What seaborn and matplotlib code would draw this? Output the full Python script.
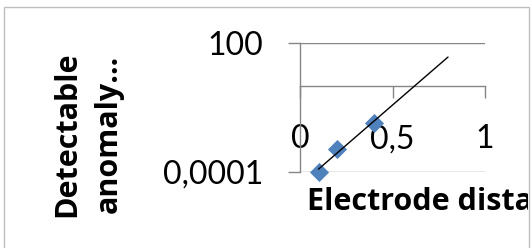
import numpy as np
import pandas as pd
import matplotlib
matplotlib.use("Agg")
import matplotlib.pyplot as plt
from matplotlib.patches import Rectangle
from matplotlib.transforms import Bbox
import seaborn as sns

# ---- data ----
electrode_distance = [0.1, 0.2, 0.4]
detectable_anomaly = [0.0001, 0.0012, 0.02]
forecast_forward = 0.4
x_ticks = [0, 0.5, 1]
x_tick_labels = ["0", "0,5", "1"]
y_ticks = [0.0001, 100]
y_tick_labels = ["0,0001", "100"]
x_title = "Electrode distance (m)"
y_title = "Detectable\nanomaly\u2026"

sns.set_theme(style="white")
plt.rcParams["font.family"] = ["Lato", "DejaVu Sans"]

W, H = 531, 248
fig = plt.figure(figsize=(W / 100, H / 100), dpi=100)
fig.patch.set_facecolor("white")

# chart area border
fig.patches.append(Rectangle((4 / W, -0.1), (529 - 4) / W, 1 - 7 / H + 0.1,
                             transform=fig.transFigure, fill=False,
                             edgecolor="#bfbfbf", linewidth=1.0))

ax = fig.add_axes([300 / W, (H - 172) / H, 185 / W, 129 / H])
ax.set_facecolor("none")

df = pd.DataFrame({"x": electrode_distance, "y": detectable_anomaly})
sns.scatterplot(data=df, x="x", y="y", ax=ax, marker="D", s=95,
                color="#4F81BD", edgecolor="#4F81BD", linewidth=0,
                clip_on=False, zorder=3)

# exponential trendline (fit in log space), forecast forward
b, a = np.polyfit(df["x"], np.log10(df["y"]), 1)
tx = np.array([df["x"].min(), df["x"].max() + forecast_forward])
trend = pd.DataFrame({"x": tx, "y": 10 ** (a + b * tx)})
sns.lineplot(data=trend, x="x", y="y", ax=ax, color="black",
             linewidth=1.0, zorder=4)

ax.set_yscale("log")
ax.set_xlim(0, 1)
ax.set_ylim(0.0001, 100)
ax.yaxis.set_minor_locator(matplotlib.ticker.NullLocator())
ax.set_yticks(y_ticks)
ax.set_yticklabels(y_tick_labels)
ax.set_xticks(x_ticks)
ax.set_xticklabels(x_tick_labels)
ax.set_xlabel("")
ax.set_ylabel("")

grid_c = "#868686"
ax.grid(axis="y", color=grid_c, linewidth=1.0)
ax.grid(axis="x", visible=False)
for s in ["top", "right"]:
    ax.spines[s].set_visible(False)
ax.spines["left"].set_color(grid_c)
ax.spines["left"].set_linewidth(1.0)
ax.spines["bottom"].set_color(grid_c)
ax.spines["bottom"].set_linewidth(1.0)
ax.spines["bottom"].set_position(("data", 1))

ax.tick_params(axis="y", direction="out", length=8.6, width=1.0,
               color=grid_c, pad=18, labelsize=23, left=True)
ax.tick_params(axis="x", direction="out", length=8.6, width=1.0,
               color=grid_c, pad=19, labelsize=23, bottom=True)
for lab in ax.get_xticklabels() + ax.get_yticklabels():
    lab.set_color("black")

title_font = ["Open Sans", "DejaVu Sans"]
# axis titles
t = fig.text(307 / W, 1 - 210 / H, x_title, ha="left", va="baseline",
             fontsize=22, fontweight="bold", color="black",
             family=title_font)
t.set_clip_box(Bbox.from_extents(0, 0, 528, H))
t.set_clip_on(True)
fig.text(88 / W, 1 - 134 / H, y_title, ha="center", va="center",
         rotation=90, fontsize=22, fontweight="bold", color="black",
         linespacing=1.5, multialignment="center", family=title_font)

fig.savefig("out.png", dpi=100)
